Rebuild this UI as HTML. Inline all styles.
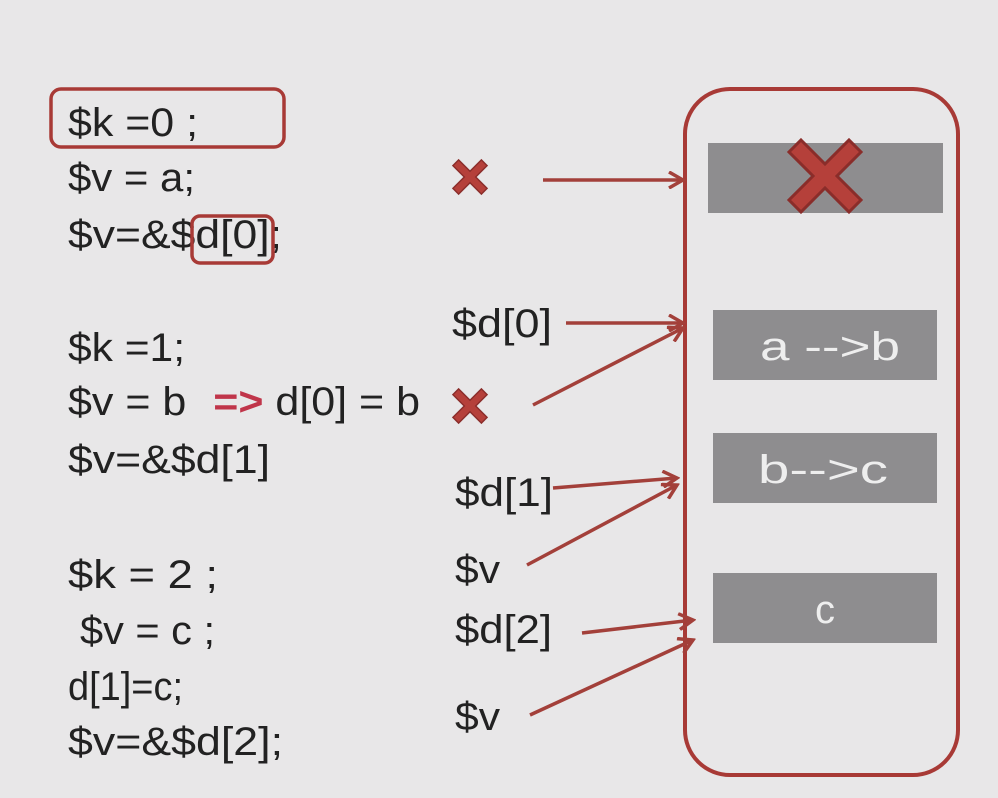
<!DOCTYPE html>
<html><head><meta charset="utf-8"><style>
html,body{margin:0;padding:0;background:#e8e7e8;}
svg{display:block;}
text{font-family:"Liberation Sans",sans-serif;}
</style></head><body>
<svg width="998" height="798" viewBox="0 0 998 798">
<defs>
<marker id="ah" markerWidth="18" markerHeight="18" refX="15" refY="9" orient="auto" markerUnits="userSpaceOnUse">
<path d="M1,1 L15,9 L1,17" fill="none" stroke="#a3403a" stroke-width="3.5"/>
</marker>
<g id="xm"><path d="M-12,-18 L0,-6 L12,-18 L18,-12 L6,0 L18,12 L12,18 L0,6 L-12,18 L-18,12 L-6,0 L-18,-12 Z" fill="#b5403a" stroke="#8a2d2a" stroke-width="1.5"/></g>
</defs>
<rect width="998" height="798" fill="#e8e7e8"/>

<g fill="#222" font-size="40">
<text x="68" y="136" textLength="130" lengthAdjust="spacingAndGlyphs">$k =0 ;</text>
<text x="68" y="191" textLength="127" lengthAdjust="spacingAndGlyphs">$v = a;</text>
<text x="68" y="248" textLength="214" lengthAdjust="spacingAndGlyphs">$v=&amp;$d[0];</text>
<text x="68" y="361" textLength="117" lengthAdjust="spacingAndGlyphs">$k =1;</text>
<text x="68" y="415" textLength="352" lengthAdjust="spacingAndGlyphs">$v = b <tspan fill="#c0354a" font-weight="bold" dx="14">=&gt;</tspan> d[0] = b</text>
<text x="68" y="473" textLength="202" lengthAdjust="spacingAndGlyphs">$v=&amp;$d[1]</text>
<text x="68" y="588" textLength="150" lengthAdjust="spacingAndGlyphs">$k = 2 ;</text>
<text x="80" y="644" textLength="135" lengthAdjust="spacingAndGlyphs">$v = c ;</text>
<text x="68" y="700" textLength="115" lengthAdjust="spacingAndGlyphs">d[1]=c;</text>
<text x="68" y="755" textLength="215" lengthAdjust="spacingAndGlyphs">$v=&amp;$d[2];</text>
</g>

<rect x="51" y="89" width="233" height="58" rx="10" fill="none" stroke="#a83a36" stroke-width="3.5"/>
<rect x="192" y="216" width="81" height="47" rx="8" fill="none" stroke="#a83a36" stroke-width="3.5"/>

<rect x="685" y="89" width="273" height="686" rx="45" fill="none" stroke="#a83a36" stroke-width="4"/>

<rect x="708" y="143" width="235" height="70" fill="#8e8d8f"/>
<use href="#xm" transform="translate(825,176) scale(2)"/>
<rect x="713" y="310" width="224" height="70" fill="#8e8d8f"/>
<text x="760" y="360" textLength="140" lengthAdjust="spacingAndGlyphs" fill="#eeeeee" font-size="40">a --&gt;b</text>
<rect x="713" y="433" width="224" height="70" fill="#8e8d8f"/>
<text x="758" y="483" textLength="130" lengthAdjust="spacingAndGlyphs" fill="#eeeeee" font-size="40">b--&gt;c</text>
<rect x="713" y="573" width="224" height="70" fill="#8e8d8f"/>
<text x="825" y="623" text-anchor="middle" fill="#eeeeee" font-size="40">c</text>

<g fill="#222" font-size="40">
<text x="452" y="337" textLength="100" lengthAdjust="spacingAndGlyphs">$d[0]</text>
<text x="455" y="506" textLength="98" lengthAdjust="spacingAndGlyphs">$d[1]</text>
<text x="455" y="583" textLength="45" lengthAdjust="spacingAndGlyphs">$v</text>
<text x="455" y="643" textLength="97" lengthAdjust="spacingAndGlyphs">$d[2]</text>
<text x="455" y="730" textLength="45" lengthAdjust="spacingAndGlyphs">$v</text>
</g>
<use href="#xm" transform="translate(470,177) scale(0.95)"/>
<use href="#xm" transform="translate(470,406) scale(0.95)"/>

<g stroke="#a3403a" stroke-width="3.5" fill="none" marker-end="url(#ah)">
<line x1="543" y1="180" x2="683" y2="180"/>
<line x1="566" y1="323" x2="683" y2="323"/>
<line x1="533" y1="405" x2="683" y2="328"/>
<line x1="553" y1="488" x2="677" y2="478"/>
<line x1="527" y1="565" x2="677" y2="485"/>
<line x1="582" y1="633" x2="693" y2="620"/>
<line x1="530" y1="715" x2="693" y2="640"/>
</g>
</svg>
</body></html>
